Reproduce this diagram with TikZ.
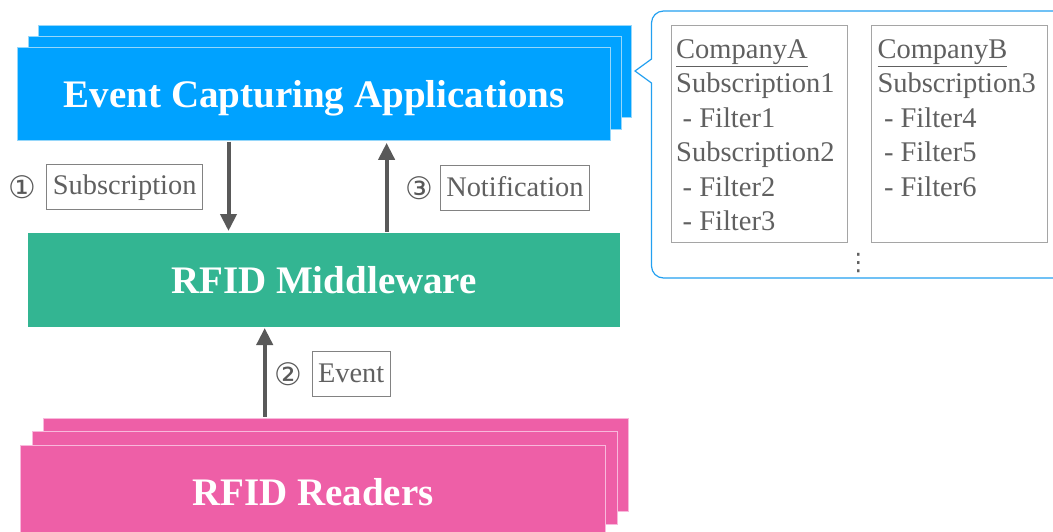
\documentclass[tikz,border=0pt]{standalone}
\usepackage{fontspec}
\setmainfont{Liberation Serif}
\newfontfamily\circfont{DejaVu Sans}
\usetikzlibrary{arrows.meta}

\definecolor{ecablue}{RGB}{0,162,255}
\definecolor{ecaedge}{RGB}{150,215,250}
\definecolor{mwgreen}{RGB}{51,181,146}
\definecolor{rdpink}{RGB}{238,95,167}
\definecolor{rdedge}{RGB}{248,185,220}
\definecolor{flowgray}{RGB}{89,89,89}
\definecolor{txtgray}{RGB}{96,96,96}
\definecolor{lblgray}{RGB}{130,130,130}
\definecolor{boxgray}{RGB}{165,165,165}
\definecolor{calloutblue}{RGB}{35,160,240}

\tikzset{
  layer/.style={rectangle, inner sep=0pt, outer sep=0pt, line width=1pt,
    minimum width=#1, text=white,
    font=\fontsize{39}{44}\selectfont\bfseries,
    text height=30pt, text depth=3pt},
  bluelayer/.style={layer=593pt, fill=ecablue, draw=ecaedge, minimum height=92.5pt},
  pinklayer/.style={layer=585pt, fill=rdpink, draw=rdedge, minimum height=93pt},
  greenlayer/.style={layer=592pt, fill=mwgreen, minimum height=94pt},
  flow/.style={draw=flowgray, line width=4pt, -{Triangle[length=17pt,width=16pt]}},
  lbl/.style={rectangle, draw=lblgray, line width=1pt, text=txtgray,
    font=\fontsize{28.4}{32}\selectfont, inner xsep=6pt, inner ysep=9.5pt,
    text height=21pt, text depth=5pt},
  stepno/.style={inner sep=0pt, text=flowgray,
    font=\circfont\fontsize{31}{31}\selectfont},
  subbox/.style={rectangle, draw=boxgray, line width=1pt, inner sep=0pt,
    minimum width=176pt, minimum height=217pt},
  subtext/.style={inner sep=0pt, anchor=base west, text=txtgray,
    font=\fontsize{28.5}{34.5}\selectfont},
  callout/.style={draw=calloutblue, line width=1.2pt}
}

\begin{document}
\begin{tikzpicture}[x=1pt, y=-1pt]
\useasboundingbox (0,0) rectangle (1053,531);

% Event capturing applications: stacked cards
\node[bluelayer] (ecaC) at (335,71.7) {};
\node[bluelayer] (ecaB) at (325.3,83) {};
\node[bluelayer] (eca)  at (314.1,93.9) {Event Capturing Applications};

% middleware
\node[greenlayer] (mw) at (324,280) {RFID Middleware};

% readers: stacked cards
\node[pinklayer] (rdC) at (336.3,465) {};
\node[pinklayer] (rdB) at (324.5,477.9) {};
\node[pinklayer] (rd)  at (313,491.5) {RFID Readers};

% arrow positions
\coordinate (xsub) at (228.5,0);
\coordinate (xnot) at (386.6,0);
\coordinate (xevt) at (264.7,0);

\draw[flow, shorten <=1.5pt, shorten >=2pt] (eca.south -| xsub) -- (mw.north -| xsub);
\draw[flow, shorten <=1pt, shorten >=2.7pt] (mw.north -| xnot) -- (eca.south -| xnot);
\draw[flow, shorten <=1.6pt, shorten >=1pt] (rdC.north -| xevt) -- (mw.south -| xevt);

% step labels
\node[stepno] (n1) at (22,187) {①};
\node[lbl] (lsub) at (124.7,186.7) {Subscription};
\node[stepno] (n3) at (419,188.5) {③};
\node[lbl] (lnot) at (514.9,188.3) {Notification};
\node[stepno] (n2) at (288,374) {②};
\node[lbl] (levt) at (351.2,374) {Event};

% callout with subscriptions
\draw[callout] (651.5,83) [rounded corners=12pt] -- (651.5,278) -- (1066,278)
  -- (1066,11) -- (651.5,11) [sharp corners] -- (651.5,59) -- (635,71) -- cycle;

\node[subbox] (compA) at (759,133.6) {};
\node[subbox] (compB) at (959.5,133.6) {};

\node[subtext] (txtA) at (676,58.3) {\begin{tabular}[t]{@{}l@{}}
\underline{CompanyA}\\
Subscription1\\
\hspace*{6.5pt}- Filter1\\
Subscription2\\
\hspace*{6.5pt}- Filter2\\
\hspace*{6.5pt}- Filter3
\end{tabular}};

\node[subtext] (txtB) at (877.3,58.3) {\begin{tabular}[t]{@{}l@{}}
\underline{CompanyB}\\
Subscription3\\
\hspace*{6.5pt}- Filter4\\
\hspace*{6.5pt}- Filter5\\
\hspace*{6.5pt}- Filter6
\end{tabular}};

\node[text=txtgray, inner sep=0pt, font=\circfont\fontsize{24}{24}\selectfont]
  (more) at (858.3,263) {⋮};
\end{tikzpicture}
\end{document}
